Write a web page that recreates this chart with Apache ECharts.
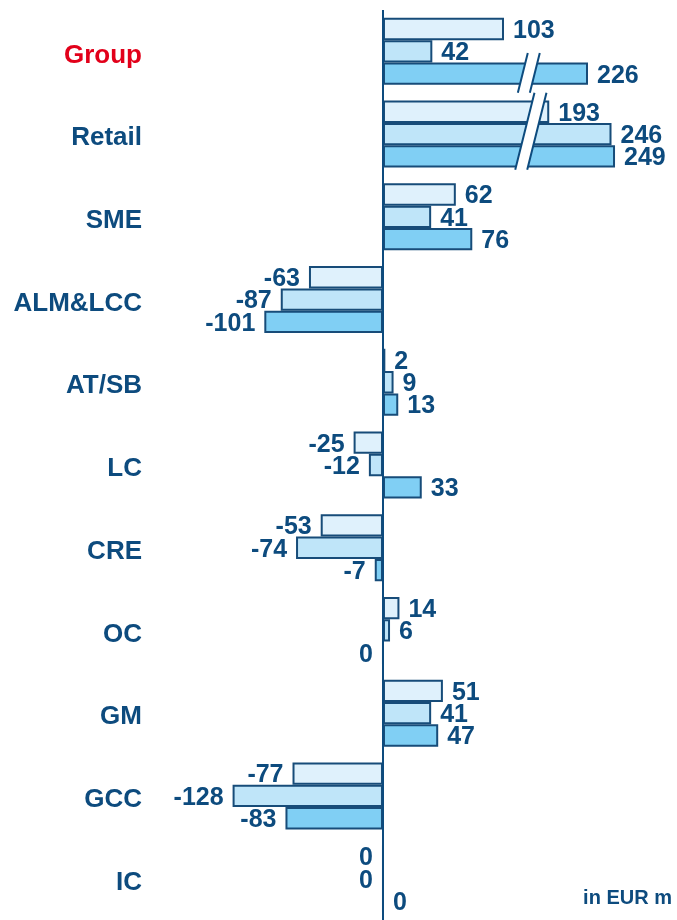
<!DOCTYPE html>
<html>
<head>
<meta charset="utf-8">
<script src="https://cdn.jsdelivr.net/npm/echarts@6/dist/echarts.min.js"></script>
<style>
  html, body { margin: 0; padding: 0; background: #ffffff; }
  #chart { width: 677px; height: 920px; }
</style>
</head>
<body>
<div id="chart"></div>
<script>
// Segments, top to bottom
const categories = ['Group', 'Retail', 'SME', 'ALM&LCC', 'AT/SB', 'LC', 'CRE', 'OC', 'GM', 'GCC', 'IC'];

// Three periods per segment, in EUR m
const periodA = [103, 193, 62, -63, 2, -25, -53, 14, 51, -77, 0];
const periodB = [42, 246, 41, -87, 9, -12, -74, 6, 41, -128, 0];
const periodC = [226, 249, 76, -101, 13, 33, -7, 0, 47, -83, 0];

// Value range hidden by the broken axis
const axisBreak = { start: 125, end: 176.5 };

const NAVY = '#0d4b7e';
const EDGE = '#174c79';
const FILLS = ['#dff1fc', '#bfe5f9', '#80cff4'];
const FONT = 'Liberation Sans, Arial, sans-serif';

// Side of the axis on which a zero value's label is printed
function zeroSide(seriesIdx, cat) {
  if (seriesIdx === 2 && cat === 'IC') return 'right';
  return 'left';
}

function buildData(values, seriesIdx) {
  return values.map((v, i) => {
    let pos = v > 0 ? 'right' : (v < 0 ? 'left' : zeroSide(seriesIdx, categories[i]));
    return { value: v, label: { position: pos } };
  });
}

function barSeries(values, idx) {
  const s = {
    type: 'bar',
    data: buildData(values, idx),
    barGap: '0%',
    barCategoryGap: '19%',
    itemStyle: { color: FILLS[idx], borderColor: EDGE, borderWidth: 2 },
    label: {
      show: true,
      distance: 9,
      offset: [0, 2],
      color: NAVY,
      fontFamily: FONT,
      fontWeight: 'bold',
      fontSize: 25,
      formatter: p => String(p.value)
    },
    emphasis: { disabled: true },
    z: 3
  };
  if (idx === 0) {
    s.markLine = {
      silent: true,
      symbol: 'none',
      animation: false,
      label: { show: false },
      lineStyle: { color: NAVY, width: 2, type: 'solid' },
      data: [{ xAxis: 0 }],
      z: 5
    };
  }
  return s;
}

const chart = echarts.init(document.getElementById('chart'), null, { renderer: 'canvas' });

const labelStyle = {
  fontFamily: FONT,
  fontWeight: 'bold',
  fontSize: 26,
  padding: [8, 0, 0, 0]
};

chart.setOption({
  animation: false,
  backgroundColor: '#ffffff',
  grid: { left: 148, top: 10, width: 468.2, height: 913, containLabel: false },
  xAxis: {
    type: 'value',
    min: -200,
    max: 250,
    breaks: [{ start: axisBreak.start, end: axisBreak.end, gap: 0 }],
    breakArea: { show: false },
    axisLine: { show: false },
    axisTick: { show: false },
    axisLabel: { show: false },
    splitLine: { show: false }
  },
  yAxis: {
    type: 'category',
    data: categories,
    inverse: true,
    axisLine: { show: false },
    axisTick: { show: false },
    splitLine: { show: false },
    axisLabel: {
      margin: 6,
      formatter: v => (v === 'Group' ? '{red|' + v + '}' : '{blue|' + v + '}'),
      rich: {
        red: Object.assign({ color: '#e2001a' }, labelStyle),
        blue: Object.assign({ color: NAVY }, labelStyle)
      }
    }
  },
  series: [barSeries(periodA, 0), barSeries(periodB, 1), barSeries(periodC, 2)]
});

// Slanted break marks over the bars that run past the hidden range
function drawBreakMarks() {
  const cx = chart.convertToPixel({ xAxisIndex: 0 }, axisBreak.start);
  const yOf = c => chart.convertToPixel({ yAxisIndex: 0 }, c);
  const band = yOf('Retail') - yOf('Group');
  const w = 12, s = 0.25;
  const marks = [];
  const slash = (cat, f0, f1, dx) => {
    const yc = yOf(cat);
    const y0 = yc + f0 * band, y1 = yc + f1 * band, ym = (y0 + y1) / 2;
    const c = cx + dx;
    const tl = [c - w / 2 + s * (ym - y0), y0], tr = [c + w / 2 + s * (ym - y0), y0];
    const bl = [c - w / 2 - s * (y1 - ym), y1], br = [c + w / 2 - s * (y1 - ym), y1];
    marks.push({ type: 'polygon', z: 20, shape: { points: [tl, tr, br, bl] }, style: { fill: '#ffffff' } });
    marks.push({ type: 'line', z: 21, shape: { x1: tl[0], y1: tl[1], x2: bl[0], y2: bl[1] }, style: { stroke: NAVY, lineWidth: 2 } });
    marks.push({ type: 'line', z: 21, shape: { x1: tr[0], y1: tr[1], x2: br[0], y2: br[1] }, style: { stroke: NAVY, lineWidth: 2 } });
  };
  slash('Group', 0.02, 0.5, -1);
  slash('Retail', -0.5, 0.43, 1);
  marks.push({
    type: 'text', right: 5, top: 888, z: 30,
    style: { text: 'in EUR m', fill: NAVY, font: 'bold 20px ' + FONT }
  });
  chart.setOption({ graphic: marks });
}
drawBreakMarks();
</script>
</body>
</html>
